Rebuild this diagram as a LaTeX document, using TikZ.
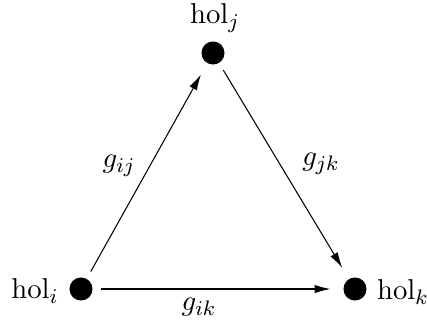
\documentclass[tikz,border=0pt]{standalone}
\usetikzlibrary{arrows.meta}
\begin{document}
\begin{tikzpicture}[x=0.381pt,y=-0.381pt,
  font=\fontsize{11.2pt}{13pt}\selectfont,
  dot/.style={circle,fill=black,inner sep=0pt,minimum size=8.8pt},
  conn/.style={-{Latex[length=6pt,width=3.2pt]},line width=0.4pt,shorten <=3pt,shorten >=4.8pt},
  lab/.style={inner sep=0pt}]
\useasboundingbox (0,0) rectangle (427,329);
\node[dot] (j) at (213,53) {};
\node[dot] (i) at (81,289) {};
\node[dot] (k) at (355,289) {};
\node[lab] (lj) at (215,18) {$\mathrm{hol}_j$};
\node[lab] (li) at (35,291) {$\mathrm{hol}_i$};
\node[lab] (lk) at (403,292) {$\mathrm{hol}_k$};
\draw[conn] (i) -- (j);
\draw[conn] (j) -- (k);
\draw[conn] (i) -- (k);
\node[lab] (gij) at (119,166) {$g_{ij}$};
\node[lab] (gjk) at (321,164) {$g_{jk}$};
\node[lab] (gik) at (199,307) {$g_{ik}$};
\end{tikzpicture}
\end{document}
